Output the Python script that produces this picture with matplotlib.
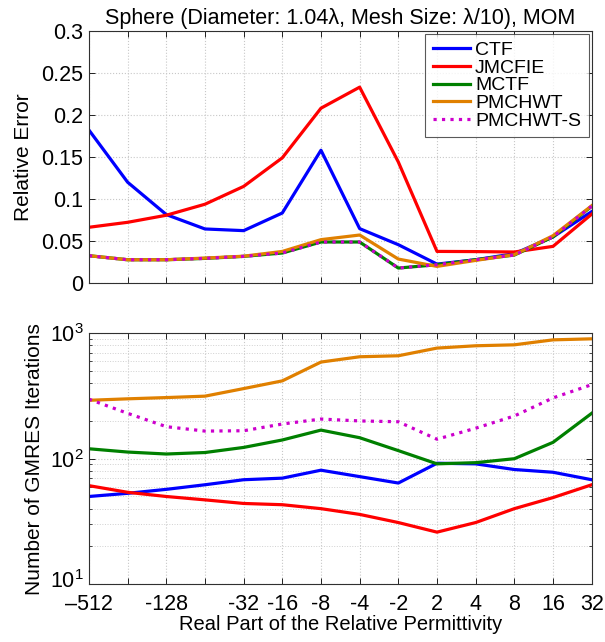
import matplotlib
matplotlib.use("Agg")
import matplotlib.pyplot as plt
import matplotlib.transforms as mtransforms
import numpy as np

plt.rcParams['font.family'] = ['Liberation Sans', 'DejaVu Sans']
plt.rcParams['mathtext.fontset'] = 'custom'
plt.rcParams['mathtext.rm'] = 'Liberation Sans'

permittivity = [-512, -256, -128, -64, -32, -16, -8, -4, -2, 2, 4, 8, 16, 32]
tick_labels = ["\u2013512", "", "-128", "", "-32", "-16", "-8", "-4", "-2", "2", "4", "8", "16", "32"]

err_ctf = [0.182, 0.120, 0.0815, 0.0644, 0.0624, 0.0834, 0.158, 0.0648, 0.0457, 0.0226, 0.0278, 0.035, 0.055, 0.085]
err_jmcfie = [0.0664, 0.0723, 0.0807, 0.0938, 0.115, 0.149, 0.208, 0.233, 0.144, 0.0377, 0.0375, 0.037, 0.0437, 0.082]
err_mctf = [0.0326, 0.0278, 0.0278, 0.0294, 0.0318, 0.0358, 0.0489, 0.0489, 0.0179, 0.0219, 0.0278, 0.0334, 0.055, 0.0914]
err_pmchwt = [0.0326, 0.0278, 0.0278, 0.0298, 0.032, 0.0377, 0.0517, 0.0572, 0.0286, 0.0199, 0.027, 0.0338, 0.0564, 0.092]
err_pmchwts = [0.0326, 0.0278, 0.0278, 0.0294, 0.0318, 0.0358, 0.0489, 0.0489, 0.0179, 0.0219, 0.0278, 0.0334, 0.055, 0.0914]

it_ctf = [50, 53, 57, 62, 68, 70, 81, 72, 64, 92, 91, 82, 78, 68]
it_jmcfie = [61, 54, 50, 47, 44, 43, 40, 36, 31, 26, 31, 40, 49, 62]
it_mctf = [120, 113, 109, 112, 123, 141, 169, 147, 116, 91, 93, 100, 135, 230]
it_pmchwt = [292, 300, 307, 315, 362, 417, 589, 649, 661, 761, 794, 808, 885, 902]
it_pmchwts = [298, 230, 180, 166, 167, 189, 207, 200, 197, 143, 175, 219, 305, 389]

names = ["CTF", "JMCFIE", "MCTF", "PMCHWT", "PMCHWT-S"]
colors = ["#0000ff", "#ff0000", "#008000", "#e08000", "#cc00cc"]
styles = ["-", "-", "-", "-", ":"]

x = np.arange(len(permittivity))

fig = plt.figure(figsize=(6.05, 6.42), dpi=100)
ax1 = fig.add_axes([0.147, 0.559, 0.831, 0.393])
ax2 = fig.add_axes([0.147, 0.090, 0.831, 0.391])

errs = [err_ctf, err_jmcfie, err_mctf, err_pmchwt, err_pmchwts]
its = [it_ctf, it_jmcfie, it_mctf, it_pmchwt, it_pmchwts]

for data, n, c, s in zip(errs, names, colors, styles):
    ax1.plot(x, data, color=c, linestyle=s, lw=2.3, label=n)
for data, n, c, s in zip(its, names, colors, styles):
    ax2.plot(x, data, color=c, linestyle=s, lw=2.3, label=n)

for ax in (ax1, ax2):
    ax.set_xlim(0, len(x) - 1)
    ax.set_xticks(x)
    ax.tick_params(direction='in', top=True, right=True, labelsize=15.5, length=4, width=0.6, pad=4)
    ax.tick_params(which='minor', direction='in', top=True, right=True, length=2, width=0.5)
    ax.grid(True, which='major', linestyle=':', color='#c8c8c8', lw=0.8)
    for sp in ax.spines.values():
        sp.set_linewidth(0.8)
        sp.set_color('#303030')

ax1.set_xticklabels([])
ax1.set_ylim(0, 0.3)
ax1.set_yticks([0, 0.05, 0.1, 0.15, 0.2, 0.25, 0.3])
ax1.set_yticklabels(["0", "0.05", "0.1", "0.15", "0.2", "0.25", "0.3"])
ax1.set_ylabel("Relative Error", fontsize=15, labelpad=6)
ax1.set_title("Sphere (Diameter: 1.04\u03bb, Mesh Size: \u03bb/10), MOM", fontsize=15.5, pad=5)
leg = ax1.legend(loc='upper right', fontsize=14, frameon=True, fancybox=False,
                 edgecolor='#303030', handlelength=1.9, handletextpad=0.25,
                 borderpad=0.4, labelspacing=0.0, borderaxespad=0.15)
leg.get_frame().set_linewidth(0.8)

ax2.set_yscale('log')
ax2.set_ylim(10, 1000)
ax2.set_yticks([10, 100, 1000])
ax2.set_yticklabels([r"$10^1$", r"$10^2$", r"$10^3$"])
ax2.grid(True, which='minor', axis='y', linestyle=':', color='#d0d0d0', lw=0.7)
ax2.set_xticklabels(tick_labels)
ax2.tick_params(axis='x', pad=7)
ax2.set_ylabel("Number of GMRES Iterations", fontsize=15, labelpad=4)
ax2.set_xlabel("Real Part of the Relative Permittivity", fontsize=14.5, labelpad=0)

# nudge the lowest y label up slightly so it clears the x tick labels
lbl = ax2.get_yticklabels()[0]
lbl.set_transform(lbl.get_transform() + mtransforms.ScaledTranslation(0, 4 / 72, fig.dpi_scale_trans))

fig.savefig("out.png", dpi=100)
